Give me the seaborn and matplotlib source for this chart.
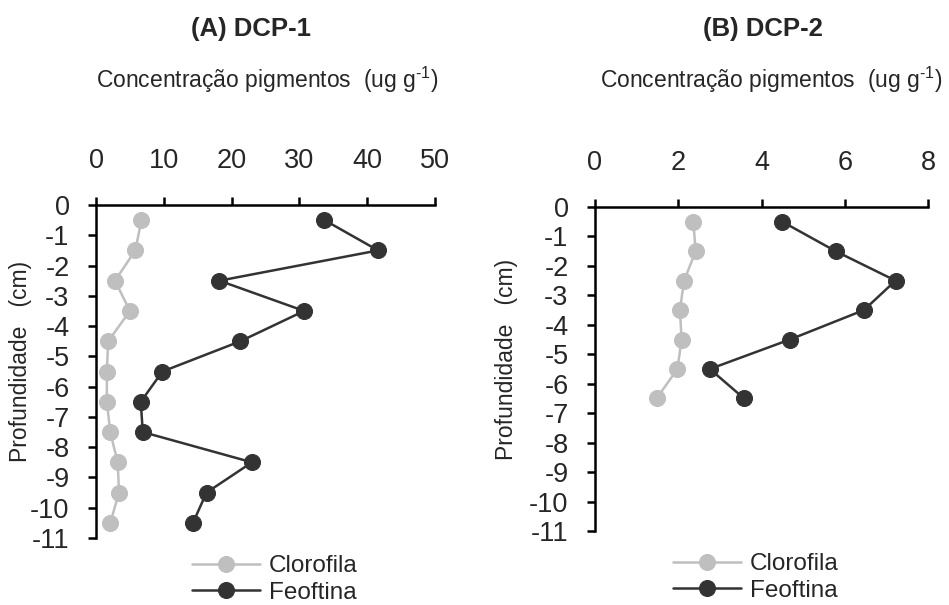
import matplotlib
matplotlib.use("Agg")
import matplotlib.pyplot as plt
import seaborn as sns
import numpy as np

sns.set_style("white")
plt.rcParams['font.family'] = ['Liberation Sans', 'DejaVu Sans']
plt.rcParams['mathtext.fontset'] = 'custom'
plt.rcParams['mathtext.rm'] = 'Liberation Sans'
plt.rcParams['axes.unicode_minus'] = False

# Data
depth_a = [-0.5, -1.5, -2.5, -3.5, -4.5, -5.5, -6.5, -7.5, -8.5, -9.5, -10.5]
clorofila_a = [6.7, 5.8, 2.8, 5.0, 1.8, 1.6, 1.6, 2.1, 3.2, 3.4, 2.1]
feoftina_a = [33.7, 41.6, 18.2, 30.7, 21.3, 9.8, 6.6, 6.9, 23.0, 16.3, 14.3]

depth_b = [-0.5, -1.5, -2.5, -3.5, -4.5, -5.5, -6.5]
clorofila_b = [2.36, 2.42, 2.14, 2.04, 2.08, 1.98, 1.48]
feoftina_b = [4.5, 5.78, 7.22, 6.46, 4.68, 2.76, 3.58]

xticks_a = [0, 10, 20, 30, 40, 50]
xticks_b = [0, 2, 4, 6, 8]
yticks = list(range(0, -12, -1))

titles = ["(A) DCP-1", "(B) DCP-2"]
xlabel = r"Concentração pigmentos  (ug g$^{\text{-1}}$)"
ylabel = "Profundidade   (cm)"
series_names = ["Clorofila", "Feoftina"]

col_clo = "#BFBFBF"
col_feo = "#333333"

W, H = 949, 605
fig = plt.figure(figsize=(W / 100, H / 100), dpi=100)

def fx(px):
    return px / W

def fy(py):
    return 1 - py / H

panels = [
    dict(rect=(96, 205, 435, 538), x_clo=clorofila_a, x_feo=feoftina_a, depth=depth_a,
         xticks=xticks_a, title=titles[0], title_xy=(251, 29), xl_xy=(267, 80),
         ylab_x=-0.188, leg=(192, 555)),
    dict(rect=(595, 207, 928, 531), x_clo=clorofila_b, x_feo=feoftina_b, depth=depth_b,
         xticks=xticks_b, title=titles[1], title_xy=(763, 29), xl_xy=(771, 80),
         ylab_x=-0.231, leg=(673, 553)),
]

for p in panels:
    l, t, r, b = p["rect"]
    ax = fig.add_axes([fx(l), fy(b), (r - l) / W, (b - t) / H])
    sns.lineplot(x=p["x_clo"], y=p["depth"], sort=False, orient="y", estimator=None,
                 ax=ax, color=col_clo, marker="o", markersize=11.5,
                 markeredgecolor=col_clo, linewidth=1.8, label=series_names[0])
    sns.lineplot(x=p["x_feo"], y=p["depth"], sort=False, orient="y", estimator=None,
                 ax=ax, color=col_feo, marker="o", markersize=11.5,
                 markeredgecolor=col_feo, linewidth=1.8, label=series_names[1])
    ax.set_xlim(p["xticks"][0], p["xticks"][-1])
    ax.set_ylim(-11, 0)
    ax.set_xticks(p["xticks"])
    ax.set_xticklabels([str(v) for v in p["xticks"]])
    ax.set_yticks(yticks)
    ax.set_yticklabels([str(v) for v in yticks])
    ax.xaxis.tick_top()
    ax.spines["right"].set_visible(False)
    ax.spines["bottom"].set_visible(False)
    for s in ["top", "left"]:
        ax.spines[s].set_visible(True)
        ax.spines[s].set_color("black")
        ax.spines[s].set_linewidth(1.8)
    ax.tick_params(axis="x", which="major", top=True, bottom=False, direction="out",
                   length=6, width=1.8, color="black", labelsize=19.5, pad=16)
    ax.tick_params(axis="y", which="major", left=True, direction="out",
                   length=6, width=1.8, color="black", labelsize=19.5, pad=13)
    ax.set_xlabel("")
    ax.set_ylabel(ylabel, fontsize=16.5)
    ax.yaxis.set_label_coords(p["ylab_x"], 0.53)
    ax.grid(False)
    ax.patch.set_alpha(0)
    ax.legend(loc="upper left", bbox_to_anchor=(fx(p["leg"][0]), fy(p["leg"][1])),
              bbox_transform=fig.transFigure, frameon=False, fontsize=17.5,
              handlelength=2.8, handletextpad=0.35, borderpad=0, borderaxespad=0,
              labelspacing=0.2)
    fig.text(fx(p["title_xy"][0]), fy(p["title_xy"][1]), p["title"], ha="center",
             va="center", fontsize=18.5, fontweight="bold")
    fig.text(fx(p["xl_xy"][0]), fy(p["xl_xy"][1]), xlabel, ha="center",
             va="center", fontsize=16.5)

fig.savefig("out.png", dpi=100, facecolor="white")
